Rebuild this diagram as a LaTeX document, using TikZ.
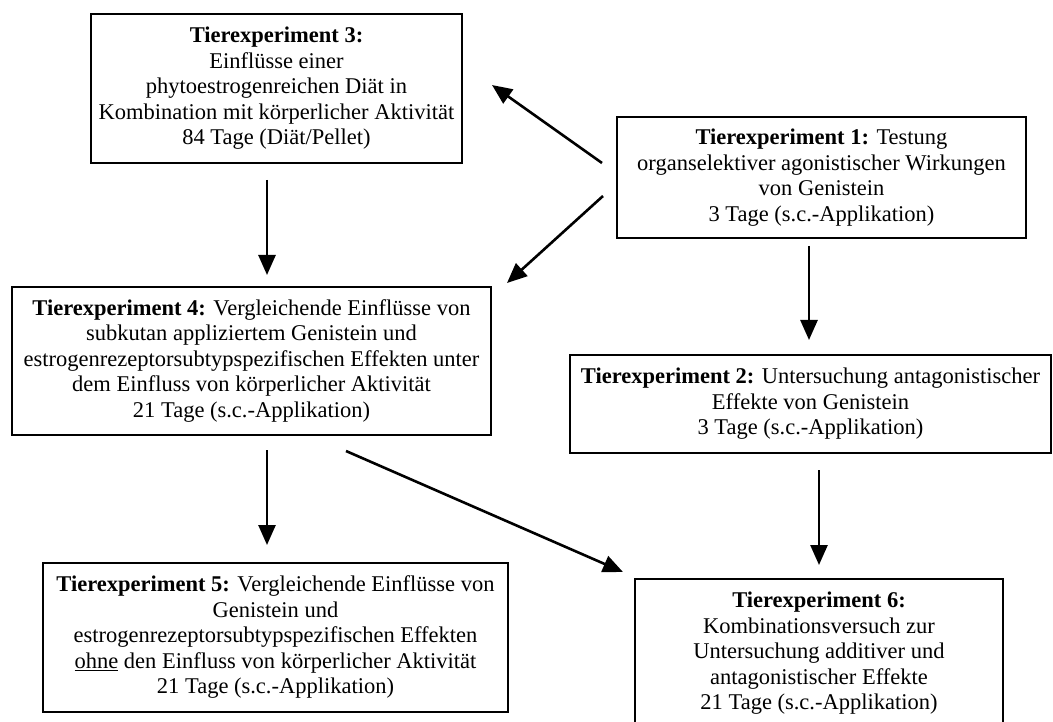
\documentclass[tikz,border=0pt]{standalone}
\usepackage{fontspec}
\setmainfont{Liberation Serif}
\usetikzlibrary{arrows.meta}
\begin{document}
\begin{tikzpicture}[x=1pt,y=-1pt,
  box/.style={draw=black,line width=2.4pt,align=center,inner sep=0pt,
    font=\fontsize{22.5}{25.5}\selectfont},
  arr/.style={line width=2.6pt,-{Triangle[length=20pt,width=17pt]}}]
\useasboundingbox (0,0) rectangle (1053,722);
\node[box,minimum width=371,minimum height=149] (b3) at (276.5,88.5)
  {\textbf{Tierexperiment 3:}\\Einflüsse einer\\phytoestrogenreichen Diät in\\Kombination mit körperlicher Aktivität\\84 Tage (Diät/Pellet)};
\node[box,minimum width=409,minimum height=121] (b1) at (821.5,177.5)
  {\textbf{Tierexperiment 1:} Testung\\organselektiver agonistischer Wirkungen\\von Genistein\\3 Tage (s.c.-Applikation)};
\node[box,minimum width=479,minimum height=148] (b4) at (251.5,361)
  {\textbf{Tierexperiment 4:} Vergleichende Einflüsse von\\subkutan appliziertem Genistein und\\estrogenrezeptorsubtypspezifischen Effekten unter\\dem Einfluss von körperlicher Aktivität\\21 Tage (s.c.-Applikation)};
\node[box,minimum width=481,minimum height=98] (b2) at (810.5,404)
  {\textbf{Tierexperiment 2:} Untersuchung antagonistischer\\Effekte von Genistein\\3 Tage (s.c.-Applikation)};
\node[box,minimum width=465,minimum height=149] (b5) at (275.5,637.5)
  {\textbf{Tierexperiment 5:} Vergleichende Einflüsse von\\Genistein und\\estrogenrezeptorsubtypspezifischen Effekten\\\underline{ohne} den Einfluss von körperlicher Aktivität\\21 Tage (s.c.-Applikation)};
\node[box,minimum width=368,minimum height=149] (b6) at (819,653.5)
  {\textbf{Tierexperiment 6:}\\Kombinationsversuch zur\\Untersuchung additiver und\\antagonistischer Effekte\\21 Tage (s.c.-Applikation)};
% connector ends
\coordinate (s34) at (267,180); \coordinate (e34) at (267,275);
\coordinate (s13) at (602,163); \coordinate (e13) at (492,85);
\coordinate (s14) at (603,196); \coordinate (e14) at (507,283);
\coordinate (s12) at (809,246); \coordinate (e12) at (809,340);
\coordinate (s45) at (267,450); \coordinate (e45) at (267,545);
\coordinate (s46) at (346,451); \coordinate (e46) at (623,572);
\coordinate (s26) at (819,470); \coordinate (e26) at (819,565);
\draw[arr] (s34) -- (e34);
\draw[arr] (s13) -- (e13);
\draw[arr] (s14) -- (e14);
\draw[arr] (s12) -- (e12);
\draw[arr] (s45) -- (e45);
\draw[arr] (s46) -- (e46);
\draw[arr] (s26) -- (e26);
\end{tikzpicture}
\end{document}
